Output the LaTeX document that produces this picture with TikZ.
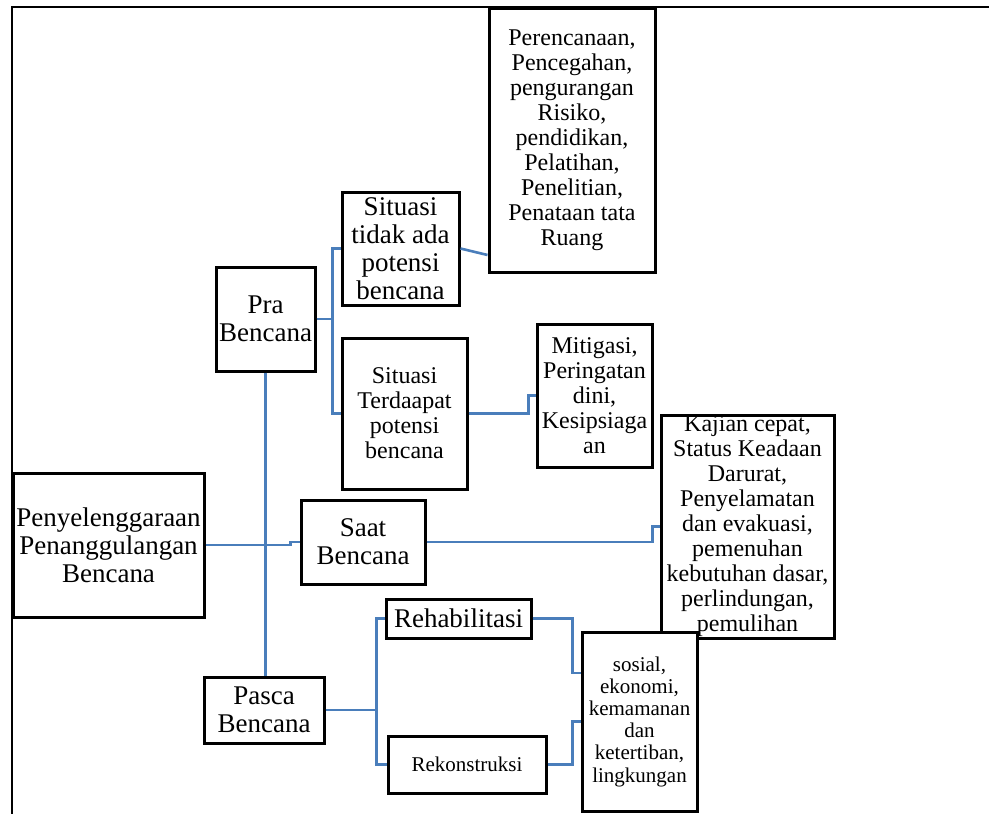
\documentclass[tikz,border=0pt]{standalone}
\usepackage{fontspec}
\setmainfont{Liberation Serif}
\definecolor{conn}{RGB}{74,126,187}
\begin{document}
\begin{tikzpicture}[x=1pt,y=-1pt,
  box/.style={draw=black, line width=3pt, fill=white, inner sep=0pt, align=center, anchor=center},
  fbig/.style={font=\fontsize{27}{28}\selectfont},
  fmid/.style={font=\fontsize{24}{25}\selectfont},
  fsml/.style={font=\fontsize{21}{22.2}\selectfont},
  link/.style={draw=conn, line width=2.6pt},
  frame/.style={draw=black, line width=2.4pt}
]
\useasboundingbox (0,0) rectangle (989,814);
\draw[frame] (12,814) -- (12,7) -- (989,7);

% boxes
\node[box,fbig,minimum width=99,minimum height=104] (pra) at (265.5,319) {Pra\\Bencana};
\node[box,fbig,minimum width=117,minimum height=113] (s1) at (400.5,248.5) {Situasi\\tidak ada\\potensi\\bencana};
\node[box,fmid,minimum width=166,minimum height=264] (per) at (572,140) {Perencanaan,\\Pencegahan,\\pengurangan\\Risiko,\\pendidikan,\\Pelatihan,\\Penelitian,\\Penataan tata\\Ruang};
\node[box,fmid,minimum width=125,minimum height=151] (s2) at (404.5,413.5) {Situasi\\Terdaapat\\potensi\\bencana};
\node[box,fmid,minimum width=115,minimum height=143] (mit) at (594.5,395.5) {Mitigasi,\\Peringatan\\dini,\\Kesipsiaga\\an};
\node[box,fmid,minimum width=173,minimum height=223] (kaj) at (747.5,526.5) {Kajian cepat,\\Status Keadaan\\Darurat,\\Penyelamatan\\dan evakuasi,\\pemenuhan\\kebutuhan dasar,\\perlindungan,\\pemulihan};
\node[box,fbig,minimum width=191,minimum height=144] (pen) at (108.5,545) {Penyelenggaraan\\Penanggulangan\\Bencana};
\node[box,fbig,minimum width=124,minimum height=84] (saat) at (363,542) {Saat\\Bencana};
\node[box,fbig,minimum width=145,minimum height=39] (reh) at (458.5,618.5) {Rehabilitasi};
\node[box,fsml,minimum width=158,minimum height=57] (rek) at (467,764.5) {Rekonstruksi};
\node[box,fbig,minimum width=120,minimum height=66] (pas) at (264,710) {Pasca\\Bencana};

% connectors
\draw[link] (pra.south) -- (pra.south |- pas.north);
\draw[link] (pra.east) -- ++(16,0) |- (s1.west);
\draw[link] (pra.east) -- ++(16,0) |- (s2.west);
\draw[link] (s1.east) -- (per.west |- 0,255);
\draw[link] (s2.east) -- ++(60,0) |- (mit.west);
\draw[link] (pen.east) -- ++(85,0) |- (saat.west);
\draw[link] (saat.east) -- ++(226,0) |- (kaj.west);
\draw[link] (pas.east) -- ++(51,0) |- (reh.west);
\draw[link] (pas.east) -- ++(51,0) |- (rek.west);

% box overlapping Kajian, drawn on top
\node[box,fsml,minimum width=115,minimum height=179] (sos) at (639.5,721.5) {sosial,\\ekonomi,\\kemamanan\\dan\\ketertiban,\\lingkungan};
\draw[link] (reh.east) -- ++(40,0) |- (sos.west |- 0,673);
\draw[link] (rek.east) -- ++(25,0) |- (sos.west);
\end{tikzpicture}
\end{document}
